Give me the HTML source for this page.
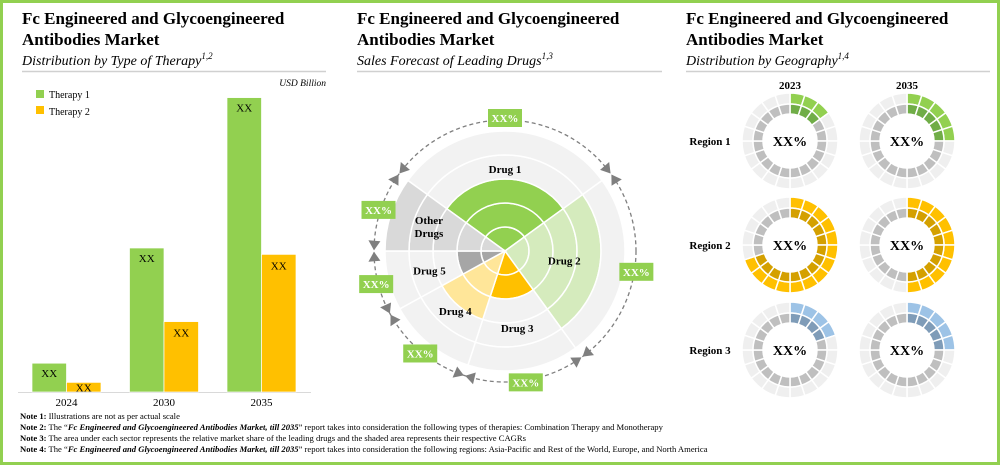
<!DOCTYPE html>
<html><head><meta charset="utf-8">
<style>
html,body{margin:0;padding:0;background:#fff;}
svg text{font-family:"Liberation Serif",serif;}
</style></head>
<body>
<svg id="root" width="1000" height="467" viewBox="0 0 1000 467" xmlns="http://www.w3.org/2000/svg">
<rect x="1.5" y="1.5" width="997" height="462" fill="#fff" stroke="#92d050" stroke-width="3"/>

<g>
<text x="22" y="24" font-size="17" font-weight="bold">Fc Engineered and Glycoengineered</text>
<text x="22" y="45" font-size="17" font-weight="bold">Antibodies Market</text>
<text x="22" y="65" font-size="14" font-style="italic">Distribution by Type of Therapy<tspan font-size="9" dy="-6">1,2</tspan></text>
</g>
<line x1="22" y1="71.5" x2="326" y2="71.5" stroke="#d0d0d0" stroke-width="1.5"/>
<text x="326" y="86" font-size="9.5" font-style="italic" text-anchor="end">USD Billion</text>
<g>
<rect x="36" y="90" width="8" height="8" fill="#92d050"/>
<text x="49" y="98" font-size="10">Therapy 1</text>
<rect x="36" y="106" width="8" height="8" fill="#ffc000"/>
<text x="49" y="115" font-size="10">Therapy 2</text>
</g>
<g id="bars"></g>

<g>
<text x="357" y="24" font-size="17" font-weight="bold">Fc Engineered and Glycoengineered</text>
<text x="357" y="45" font-size="17" font-weight="bold">Antibodies Market</text>
<text x="357" y="65" font-size="14" font-style="italic">Sales Forecast of Leading Drugs<tspan font-size="9" dy="-6">1,3</tspan></text>
</g>
<line x1="357" y1="71.5" x2="662" y2="71.5" stroke="#d0d0d0" stroke-width="1.5"/>
<g id="polar"></g>

<g>
<text x="686" y="24" font-size="17" font-weight="bold">Fc Engineered and Glycoengineered</text>
<text x="686" y="45" font-size="17" font-weight="bold">Antibodies Market</text>
<text x="686" y="65" font-size="14" font-style="italic">Distribution by Geography<tspan font-size="9" dy="-6">1,4</tspan></text>
</g>
<line x1="686" y1="71.5" x2="990" y2="71.5" stroke="#d0d0d0" stroke-width="1.5"/>
<g id="donuts"></g>

<g font-size="8.6">
<text x="20" y="419" textLength="0"><tspan font-weight="bold">Note 1:</tspan> Illustrations are not as per actual scale</text>
<text x="20" y="430"><tspan font-weight="bold">Note 2:</tspan> The “<tspan font-weight="bold" font-style="italic">Fc Engineered and Glycoengineered Antibodies Market, till 2035</tspan>” report takes into consideration the following types of therapies: Combination Therapy and Monotherapy</text>
<text x="20" y="441"><tspan font-weight="bold">Note 3:</tspan> The area under each sector represents the relative market share of the leading drugs and the shaded area represents their respective CAGRs</text>
<text x="20" y="452"><tspan font-weight="bold">Note 4:</tspan> The “<tspan font-weight="bold" font-style="italic">Fc Engineered and Glycoengineered Antibodies Market, till 2035</tspan>” report takes into consideration the following regions: Asia-Pacific and Rest of the World, Europe, and North America</text>
</g>
</svg>
<script>
const NS="http://www.w3.org/2000/svg";
// ---- bar chart data ----
const years=["2024","2030","2035"];
const therapy1=[9,45,92];
const therapy2=[3,22,43];
const barLabels=["XX","XX","XX"];
// ---- polar chart data ----
const drugs=["Drug 1","Drug 2","Drug 3","Drug 4","Drug 5","Other Drugs"];
const drugShares=[30,25,15,12,8,10];
const drugLevels=[3,4,2,3,2,5];
const cagrLabels=["XX%","XX%","XX%","XX%","XX%","XX%"];
// ---- donut data ----
const regions=["Region 1","Region 2","Region 3"];
const donutYears=["2023","2035"];
const filled2023=[3,14,4];
const filled2035=[5,10,5];
const donutLabels=["XX%","XX%","XX%"];

function mk(tag,attrs,parent){const e=document.createElementNS(NS,tag);for(const k in attrs)e.setAttribute(k,attrs[k]);parent.appendChild(e);return e;}
document.querySelector('[textLength="0"]').removeAttribute('textLength');

// Bars
(function(){
  const g=document.getElementById('bars');
  const base=392, ppu=3.2;
  const y=v=>base-v*ppu;
  const groupX=i=>32+i*97.5;
  const bw=34.5;
  const ax=mk('line',{x1:18,y1:base+0.5,x2:311,y2:base+0.5,stroke:'#d9d9d9','stroke-width':1},g);
  
  
  years.forEach((yr,i)=>{
    const x=groupX(i);
    const b1=mk('rect',{x:x,y:y(therapy1[i]),width:bw,height:therapy1[i]*ppu,fill:'#92d050',stroke:'#fff','stroke-width':0.7},g);
    
    
    const b2=mk('rect',{x:x+bw,y:y(therapy2[i]),width:bw,height:therapy2[i]*ppu,fill:'#ffc000',stroke:'#fff','stroke-width':0.7},g);
    
    
    const t1=mk('text',{x:x+bw/2,y:y(therapy1[i])+14,'font-size':11,'text-anchor':'middle'},g);t1.textContent=barLabels[i];
    
    
    const t2=mk('text',{x:x+bw*1.5,y:y(therapy2[i])+(therapy2[i]*ppu<16?9:15),'font-size':11,'text-anchor':'middle'},g);t2.textContent=barLabels[i];
    
    
    const tl=mk('text',{x:x+bw,y:406,'font-size':11,'text-anchor':'middle'},g);tl.textContent=yr;
    
    
  });
})();

// Polar
(function(){
  const g=document.getElementById('polar');
  const cx=505,cy=251,ring=24,Rd=131;
  const pt=(r,a)=>[cx+r*Math.cos(a*Math.PI/180),cy-r*Math.sin(a*Math.PI/180)];
  function sector(r0,r1,a0,a1){
    const p1=pt(r1,a0),p2=pt(r1,a1),p3=pt(r0,a1),p4=pt(r0,a0);
    const large=(a0-a1)>180?1:0;
    let d=`M${p1[0]},${p1[1]} A${r1},${r1} 0 ${large} 1 ${p2[0]},${p2[1]}`;
    if(r0>0) d+=` L${p3[0]},${p3[1]} A${r0},${r0} 0 ${large} 0 ${p4[0]},${p4[1]} Z`;
    else d+=` L${cx},${cy} Z`;
    return d;
  }
  const dc=mk('circle',{cx:cx,cy:cy,r:Rd,fill:'none',stroke:'#7f7f7f','stroke-width':1.3,'stroke-dasharray':'4,3'},g);
  
  
  const total=drugShares.reduce((a,b)=>a+b,0);
  const colors=['#92d050','#d5ebbd','#ffc000','#ffe699','#a6a6a6','#d9d9d9'];
  const labelR=[82,60,78,78,78,80];
  let a=144;
  const bounds=[];
  drugs.forEach((d,i)=>{
    const span=drugShares[i]/total*360;
    const a0=a,a1=a-span;
    bounds.push(a0);
    for(let k=0;k<5;k++){
      const p=mk('path',{d:sector(k*ring,(k+1)*ring,a0,a1),fill:k<drugLevels[i]?colors[i]:'#f2f2f2',stroke:'#fff','stroke-width':1.5},g);
      
      
    }
    const mid=(a0+a1)/2;
    const lp=pt(labelR[i],mid);
    const parts=d==='Other Drugs'?['Other','Drugs']:[d];
    parts.forEach((s,j)=>{
      const t=mk('text',{x:lp[0],y:lp[1]+4+(j-(parts.length-1)/2)*13,'font-size':11,'font-weight':'bold','text-anchor':'middle'},g);
      t.textContent=s;
      
      
    });
    const bp=pt(Rd+2,mid);
    const box=mk('rect',{x:bp[0]-17,y:bp[1]-9,width:34,height:18,fill:'#92d050'},g);
    
    
    const bt=mk('text',{x:bp[0],y:bp[1]+4,'font-size':11,'font-weight':'bold',fill:'#fff','text-anchor':'middle'},g);
    bt.textContent=cagrLabels[i];
    
    
    a=a1;
  });
  bounds.forEach((b)=>{
    [1,-1].forEach(s=>{
      const tip=pt(Rd,b+s*0.3);
      const c=pt(Rd,b+s*4.5);
      const ang=(b+s*4.5)*Math.PI/180;
      const nx=Math.cos(ang),ny=-Math.sin(ang);
      const w=6;
      const p=mk('polygon',{points:`${tip[0]},${tip[1]} ${c[0]+nx*w},${c[1]+ny*w} ${c[0]-nx*w},${c[1]-ny*w}`,fill:'#7f7f7f'},g);
      
      
    });
  });
})();

// Donuts
(function(){
  const g=document.getElementById('donuts');
  const cols=[790,907], rows=[141,245,350];
  const light=['#92d050','#ffc000','#9dc3e6'];
  const dark=['#70ad47','#d4a000','#7f9cb8'];
  const pt=(cx,cy,r,a)=>[cx+r*Math.sin(a),cy-r*Math.cos(a)];
  function seg(cx,cy,r0,r1,a0,a1){
    const p1=pt(cx,cy,r1,a0),p2=pt(cx,cy,r1,a1),p3=pt(cx,cy,r0,a1),p4=pt(cx,cy,r0,a0);
    return `M${p1[0]},${p1[1]} A${r1},${r1} 0 0 1 ${p2[0]},${p2[1]} L${p3[0]},${p3[1]} A${r0},${r0} 0 0 0 ${p4[0]},${p4[1]} Z`;
  }
  donutYears.forEach((yr,ci)=>{
    const h=mk('text',{x:cols[ci],y:89,'font-size':11,'font-weight':'bold','text-anchor':'middle'},g);
    h.textContent=yr;
    
    
  });
  regions.forEach((reg,ri)=>{
    const lt=mk('text',{x:710,y:rows[ri]+4,'font-size':11,'font-weight':'bold','text-anchor':'middle'},g);
    lt.textContent=reg;
    
    
    [filled2023,filled2035].forEach((arr,ci)=>{
      const cx=cols[ci],cy=rows[ri];
      const n=arr[ri];
      for(let k=0;k<20;k++){
        const a0=k*Math.PI/10,a1=(k+1)*Math.PI/10;
        const on=k<n;
        const o=mk('path',{d:seg(cx,cy,37,48,a0,a1),fill:on?light[ri]:'#efefef',stroke:'#fff','stroke-width':1.5},g);
        
        
        const inn=mk('path',{d:seg(cx,cy,27,37,a0,a1),fill:on?dark[ri]:'#bfbfbf',stroke:'#fff','stroke-width':1.5},g);
        
        
      }
      const t=mk('text',{x:cx,y:cy+5,'font-size':14,'font-weight':'bold','text-anchor':'middle'},g);
      t.textContent=donutLabels[ri];
      
      
    });
  });
})();
</script>
</body></html>
